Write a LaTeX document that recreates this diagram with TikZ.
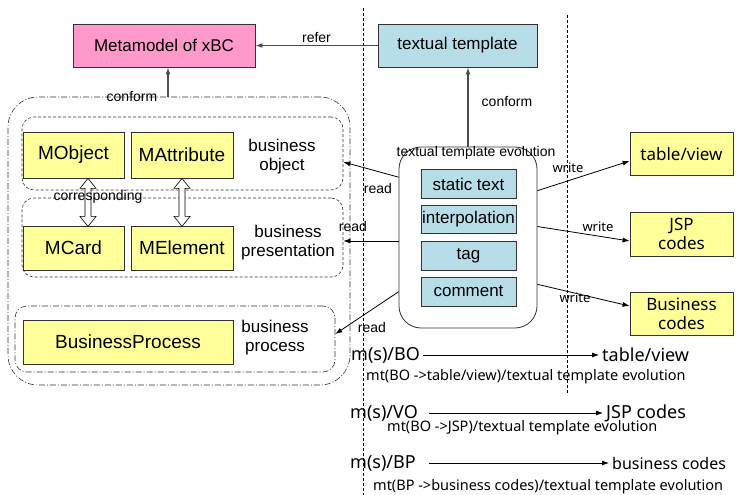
\documentclass[tikz,border=0pt]{standalone}
\usepackage{fontspec}
\setmainfont{Liberation Sans}
\newfontfamily\yh{Noto Sans}
\usetikzlibrary{arrows.meta,calc}
\definecolor{metapink}{RGB}{255,153,204}
\definecolor{tplcyan}{RGB}{183,222,232}
\definecolor{codeyellow}{RGB}{255,255,153}
\begin{document}
\begin{tikzpicture}[x=1pt,y=-1pt,>={Latex[length=7pt,width=5pt]},
    box/.style={draw=black!80,line width=.8pt,inner sep=0pt,font=\fontsize{17}{20}\selectfont},
    mbox/.style={box,fill=codeyellow,font=\fontsize{19}{22}\selectfont},
    cbox/.style={box,fill=codeyellow,align=center,font=\yh\fontsize{17}{19}\selectfont},
    tbox/.style={box,fill=tplcyan,minimum width=95,minimum height=29},
    grp/.style={draw=black!80,dash pattern=on 3pt off 2pt,line width=.6pt,rounded corners=12pt,inner sep=0pt},
    dgrp/.style={grp,dash pattern=on 6pt off 2pt on 1pt off 2pt},
    lbl/.style={font=\fontsize{14}{16}\selectfont,inner sep=1pt},
    wlbl/.style={font=\yh\fontsize{13}{15}\selectfont,inner sep=1pt},
    txt/.style={align=center,font=\fontsize{17}{19}\selectfont},
    big/.style={font=\yh\fontsize{18}{20}\selectfont,inner sep=3pt},
    small/.style={font=\yh\fontsize{14.5}{17}\selectfont,inner sep=0pt}]
  \useasboundingbox (0,0) rectangle (736,495);
  \draw[dash pattern=on 3pt off 2pt,line width=.6pt] (363,8) -- (363,495);
  \draw[dash pattern=on 3pt off 2pt,line width=.6pt] (567,15) -- (567,395);

  \node[box,fill=metapink,minimum width=182,minimum height=43] (meta) at (164,45.5) {Metamodel of xBC};
  \node[box,fill=tplcyan,minimum width=159,minimum height=43] (tpl) at (457.5,45.5) {textual template};
  \draw[->,line width=1.4pt,draw=black!70] (tpl.west) -- (meta.east) node[midway,above,lbl,yshift=1pt] {refer};

  \node[dgrp,rounded corners=30pt,minimum width=342,minimum height=288] (outer) at (179,241) {};
  \node[grp,minimum width=321,minimum height=73] (bobox) at (182.5,153.5) {};
  \node[grp,minimum width=321,minimum height=79] (bpbox) at (182.5,237.5) {};
  \node[dgrp,minimum width=320,minimum height=66] (prbox) at (175,339) {};
  \draw[->,line width=1.4pt,draw=black!70] ([xshift=4pt]meta.south |- outer.north) -- ([xshift=4pt]meta.south);
  \node[lbl] (conf1) at (132,97) {conform};

  \node[mbox,minimum width=101,minimum height=46] (mobj) at (73.5,155) {MObject};
  \node[mbox,minimum width=102,minimum height=46] (mattr) at (182,155) {MAttribute};
  \node[mbox,minimum width=101,minimum height=44] (mcard) at (73.5,248) {MCard};
  \node[mbox,minimum width=102,minimum height=44] (melem) at (182,248) {MElement};
  \node[mbox,minimum width=210,minimum height=44] (bproc) at (128,342) {BusinessProcess};
  \node[txt] (bolbl) at (282,157) {business\\object};
  \node[txt] (bplbl) at (288,243) {business\\presentation};
  \node[txt] (prlbl) at (275,338) {business\\process};

  \foreach \u/\s in {mobj/14.5,mattr/0}
    \draw[fill=white,line width=.6pt] ([xshift=\s]\u.south) -- ++(8,10) -- ++(-5,0) -- ++(0,28)
      -- ++(5,0) -- ++(-8,10) -- ++(-8,-10) -- ++(5,0) -- ++(0,-28) -- ++(-5,0) -- cycle;
  \node[lbl] (corr) at (98,197) {corresponding};

  \node[draw=black!80,line width=.8pt,rounded corners=22pt,minimum width=138,minimum height=181] (evol) at (468,237.5) {};
  \node[lbl] (evlbl) at (476,153) {textual template evolution};
  \node[tbox] (stat) at (468.5,184) {static text};
  \node[tbox,minimum height=28] (interp) at (468.5,219) {interpolation};
  \node[tbox] (tag) at (468.5,255.5) {tag};
  \node[tbox] (comm) at (468.5,291.5) {comment};
  \draw[->,line width=1.4pt,draw=black!70] (evol.north) -- (evol.north |- tpl.south);
  \node[lbl] (conf2) at (507,102) {conform};

  \node[cbox,minimum width=103,minimum height=43] (tview) at (681.5,154) {table/view};
  \node[cbox,minimum width=103,minimum height=44] (jsp) at (681.5,234) {JSP\\codes};
  \node[cbox,minimum width=103,minimum height=43] (bcode) at (681.5,313.5) {Business\\codes};

  \draw[->,line width=.8pt] (evol.139) -- ([yshift=-8.5pt]bobox.east);
  \draw[->,line width=.8pt] ([yshift=-3.5pt]evol.west) -- ([yshift=-3.5pt]bpbox.east);
  \draw[->,line width=.8pt] (evol.218) -- ([yshift=5pt]prbox.east);
  \node[lbl] (rd1) at (378,188) {read};
  \node[lbl] (rd2) at (353,226) {read};
  \node[lbl] (rd3) at (372,327) {read};

  \draw[->,line width=.8pt] (evol.34) -- ([yshift=-7pt]tview.west);
  \draw[->,line width=.8pt] (evol.9) -- ([yshift=-7pt]jsp.west);
  \draw[->,line width=.8pt] (evol.-34) -- ([yshift=7.5pt]bcode.west);
  \node[wlbl] (wr1) at (568,168) {write};
  \node[wlbl] (wr2) at (598,227) {write};
  \node[wlbl] (wr3) at (575,298) {write};

  \node[big,anchor=west] (ms1) at (348,355) {m(s)/BO};
  \node[big,anchor=west] (to1) at (599,355) {table/view};
  \draw[->,line width=.8pt] (ms1) -- (to1);
  \node[small,anchor=west] (mt1) at (366,377) {mt(BO ->table/view)/textual template evolution};
  \node[big,anchor=west] (ms2) at (347,413) {m(s)/VO};
  \node[big,anchor=west] (to2) at (603,413) {JSP codes};
  \draw[->,line width=.8pt] ([xshift=8pt]ms2.east) -- (to2);
  \node[small,anchor=west] (mt2) at (387,428) {mt(BO ->JSP)/textual template evolution};
  \node[big,anchor=west] (ms3) at (347,463) {m(s)/BP};
  \node[big,anchor=west,font=\yh\fontsize{16}{18}\selectfont] (to3) at (609,463) {business codes};
  \draw[->,line width=.8pt] ([xshift=10pt]ms3.east) -- (to3);
  \node[small,anchor=west] (mt3) at (373,487) {mt(BP ->business codes)/textual template evolution};
\end{tikzpicture}
\end{document}
